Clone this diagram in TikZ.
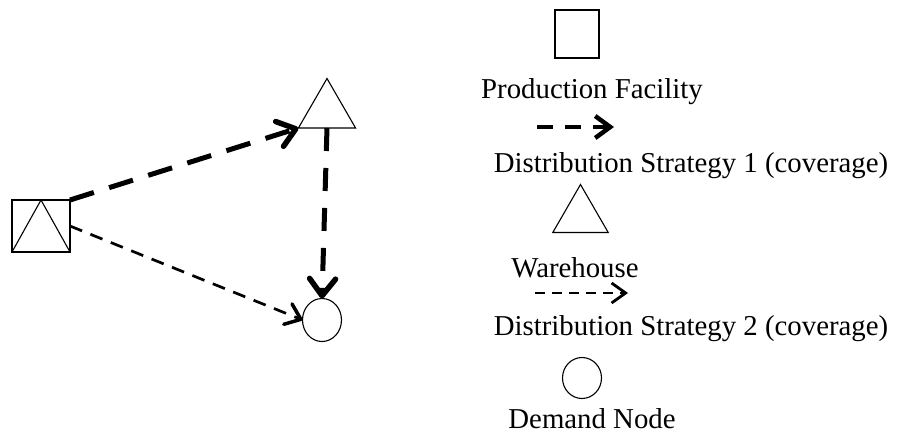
\documentclass[tikz,border=0pt]{standalone}
\usepackage{fontspec}
\setmainfont{Liberation Serif}
\usetikzlibrary{shapes.geometric,arrows.meta}

\tikzset{
  shapeline/.style={draw=black, line width=1.1pt, inner sep=0pt, outer sep=0pt},
  facility/.style={shapeline, rectangle, minimum width=58pt, minimum height=52pt},
  depot/.style={shapeline, regular polygon, regular polygon sides=3, minimum size=66pt},
  demand/.style={shapeline, ellipse, minimum width=39pt, minimum height=43pt},
  strongflow/.style={line width=5pt, dash pattern=on 25pt off 16pt,
    -{Straight Barb[length=17pt, width=26pt, line width=5.5pt, round]}},
  weakflow/.style={line width=2.7pt, dash pattern=on 13pt off 9pt,
    -{Straight Barb[length=14pt, width=22pt, line width=3.5pt, round]}},
  legendtext/.style={font=\fontsize{28.8}{34}\selectfont, anchor=base, inner sep=0pt}
}

\begin{document}
\begin{tikzpicture}[x=1pt, y=-1pt]
\useasboundingbox (0,0) rectangle (897,434);

% network: production facility with co-located warehouse
\node[facility] (pf) at (41,226) {};
\draw[line width=1.1pt] (pf.south west) -- (pf.north) -- (pf.south east);
\node[depot] (wh) at (327,111.5) {};
\node[demand] (dn) at (322,320) {};

\draw[strongflow] (pf.north east) -- (wh.corner 2);
\draw[strongflow, dash pattern=on 23pt off 17pt] (wh.side 2) -- (dn.north);
\draw[weakflow] (pf.east) -- (dn.west);

% legend
\node[shapeline, rectangle, minimum width=44pt, minimum height=48pt] (lgpf) at (577,34) {};
\node[legendtext] (lgpft) at (592,98) {Production Facility};

\coordinate (s1a) at (537,127);
\coordinate (s1b) at (614,127);
\draw[line width=4.5pt, dash pattern=on 16pt off 12pt,
  -{Straight Barb[length=15pt, width=22pt, line width=4.5pt]}] (s1a) -- (s1b);
\node[legendtext] (s1t) at (691,172) {Distribution Strategy 1 (coverage)};

\node[depot, minimum size=64pt] (lgwh) at (580.5,216.5) {};
\node[legendtext] (lgwht) at (575,277) {Warehouse};

\coordinate (s2a) at (535,293);
\coordinate (s2b) at (628,293);
\draw[line width=2.5pt, dash pattern=on 10pt off 7pt,
  -{Straight Barb[length=14pt, width=20pt, line width=2.8pt]}] (s2a) -- (s2b);
\node[legendtext] (s2t) at (691,335) {Distribution Strategy 2 (coverage)};

\node[demand, minimum width=39pt, minimum height=41pt] (lgdn) at (582,378) {};
\node[legendtext] (lgdnt) at (592,428) {Demand Node};
\end{tikzpicture}
\end{document}
